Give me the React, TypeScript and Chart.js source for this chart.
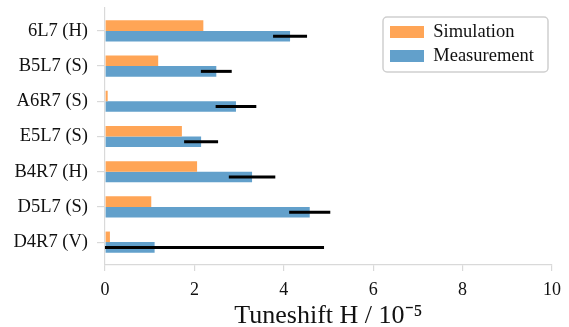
import React, { useEffect, useRef } from "react";
import { Chart, registerables } from "chart.js";

Chart.register(...registerables);

const categories = ["6L7 (H)", "B5L7 (S)", "A6R7 (S)", "E5L7 (S)", "B4R7 (H)", "D5L7 (S)", "D4R7 (V)"];
const simulation = [2.2, 1.19, 0.06, 1.72, 2.06, 1.035, 0.11];
const measurement = [4.14, 2.49, 2.93, 2.15, 3.29, 4.58, 1.11];
const measurementErr = [0.38, 0.345, 0.455, 0.38, 0.52, 0.46, 3.79];
const xTicks = [0, 2, 4, 6, 8, 10];
const seriesNames = ["Simulation", "Measurement"];
const xTitle = "Tuneshift H / 10\u207B\u2075";

const FONT = "'Liberation Serif', 'Times New Roman', serif";
const TEXT = "#111111";
const AXIS = "#d9d9d9";

const errorBarPlugin = {
  id: "errorBars",
  afterDatasetsDraw(chart: any) {
    const meta = chart.getDatasetMeta(1);
    const xs = chart.scales.x;
    const ca = chart.chartArea;
    const ctx = chart.ctx;
    ctx.save();
    ctx.beginPath();
    ctx.rect(ca.left, ca.top, ca.right - ca.left, ca.bottom - ca.top);
    ctx.clip();
    ctx.strokeStyle = "#000";
    ctx.lineWidth = 3;
    ctx.lineCap = "butt";
    meta.data.forEach((bar: any, i: number) => {
      const v = measurement[i];
      const e = measurementErr[i];
      ctx.beginPath();
      ctx.moveTo(xs.getPixelForValue(v - e), bar.y);
      ctx.lineTo(xs.getPixelForValue(v + e), bar.y);
      ctx.stroke();
    });
    ctx.restore();
  },
};

const legendPlacePlugin = {
  id: "legendPlace",
  afterLayout(chart: any) {
    const lg = chart.legend;
    const ca = chart.chartArea;
    if (!lg) return;
    lg.left = ca.right - 167.5;
    lg.right = lg.left + 165;
    lg.top = ca.top + 9.25;
    lg.bottom = ca.bottom;
  },
  beforeDraw(chart: any) {
    const ca = chart.chartArea;
    const ctx = chart.ctx;
    const x = ca.right - 169;
    const y = ca.top + 9;
    const w = 165;
    const h = 55;
    const r = 4;
    ctx.save();
    ctx.beginPath();
    ctx.moveTo(x + r, y);
    ctx.lineTo(x + w - r, y);
    ctx.arcTo(x + w, y, x + w, y + r, r);
    ctx.lineTo(x + w, y + h - r);
    ctx.arcTo(x + w, y + h, x + w - r, y + h, r);
    ctx.lineTo(x + r, y + h);
    ctx.arcTo(x, y + h, x, y + h - r, r);
    ctx.lineTo(x, y + r);
    ctx.arcTo(x, y, x + r, y, r);
    ctx.closePath();
    ctx.fillStyle = "rgba(255,255,255,0.8)";
    ctx.fill();
    ctx.strokeStyle = "#cfcfcf";
    ctx.lineWidth = 1.5;
    ctx.stroke();
    ctx.restore();
  },
};

export default function App() {
  const ref = useRef<HTMLCanvasElement | null>(null);

  useEffect(() => {
    document.body.style.margin = "0";
    const canvas = ref.current;
    if (!canvas) return;
    const chart = new Chart(canvas, {
      type: "bar",
      data: {
        datasets: [
          {
            label: seriesNames[0],
            data: simulation.map((v, i) => ({ x: v, y: i })),
            backgroundColor: "#ffa556",
            borderWidth: 0,
            categoryPercentage: 0.6,
            barPercentage: 1.0,
          },
          {
            label: seriesNames[1],
            data: measurement.map((v, i) => ({ x: v, y: i })),
            backgroundColor: "#62a0cb",
            borderWidth: 0,
            categoryPercentage: 0.6,
            barPercentage: 1.0,
          },
        ],
      } as any,
      options: {
        indexAxis: "y",
        responsive: false,
        animation: false,
        layout: { padding: { top: 8, right: 13, left: 0, bottom: 0 } },
        plugins: {
          tooltip: { enabled: false },
          legend: {
            position: "chartArea" as any,
            align: "start",
            labels: {
              boxWidth: 34,
              boxHeight: 12,
              padding: 5.5,
              color: TEXT,
              font: { family: FONT, size: 18.5 },
            },
          },
        },
        scales: {
          x: {
            type: "linear",
            min: 0,
            max: 10,
            afterBuildTicks: (scale: any) => {
              scale.ticks = xTicks.map((v) => ({ value: v }));
            },
            afterFit: (scale: any) => {
              scale.height = 62;
            },
            grid: {
              display: true,
              drawOnChartArea: false,
              drawTicks: true,
              tickLength: 6,
              color: AXIS,
              lineWidth: 1.2,
            },
            border: { display: true, color: AXIS, width: 1.2 },
            ticks: {
              padding: 8,
              color: TEXT,
              font: { family: FONT, size: 18 },
              maxRotation: 0,
            },
            title: {
              display: true,
              text: xTitle,
              color: TEXT,
              font: { family: FONT, size: 26, lineHeight: 0.8 },
              padding: { top: 0, bottom: 0 },
            },
          },
          y: {
            type: "linear",
            reverse: true,
            offset: false,
            min: -0.65,
            max: 6.65,
            afterBuildTicks: (scale: any) => {
              scale.ticks = categories.map((_, i) => ({ value: i }));
            },
            afterFit: (scale: any) => {
              scale.width = 105;
              scale.paddingTop = 0;
              scale.paddingBottom = 0;
            },
            grid: {
              display: true,
              offset: false,
              drawOnChartArea: false,
              drawTicks: true,
              tickLength: 8,
              color: AXIS,
              lineWidth: 1.2,
            },
            border: { display: true, color: AXIS, width: 1.2 },
            ticks: {
              padding: 9,
              color: TEXT,
              font: { family: FONT, size: 18.5 },
              callback: (value: any) => categories[Math.round(Number(value))] ?? "",
            },
          },
        },
      } as any,
      plugins: [errorBarPlugin, legendPlacePlugin],
    });
    return () => chart.destroy();
  }, []);

  return (
    <div style={{ width: 569, height: 327 }}>
      <canvas ref={ref} width={569} height={327} style={{ display: "block" }} />
    </div>
  );
}
